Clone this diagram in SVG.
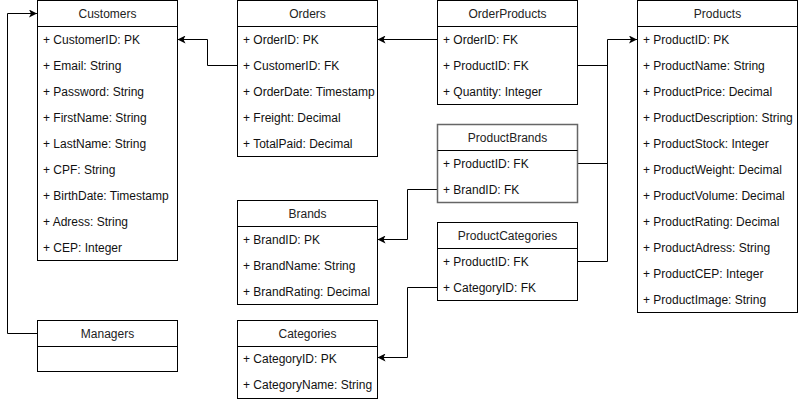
<svg xmlns="http://www.w3.org/2000/svg" width="798" height="401" viewBox="0 0 798 401">
<defs>
<style>
.box{fill:#fff;stroke:#000;stroke-width:1}
.pb{stroke:#666;stroke-width:1.5}
.hd{font-family:"Liberation Sans",Arial,sans-serif;font-size:12px;fill:#222;text-anchor:middle}
.at{font-family:"Liberation Sans",Arial,sans-serif;font-size:12px;fill:#111}
.ln{fill:none;stroke:#000;stroke-width:1}
.cn{fill:none;stroke:#000;stroke-width:1;marker-end:url(#arr)}
</style>
<marker id="arr" viewBox="0 0 8 8" refX="8" refY="4" markerWidth="8" markerHeight="8" markerUnits="userSpaceOnUse" orient="auto">
<path d="M0,0 L8,4 L0,8 L2,4 Z" fill="#000"/>
</marker>
</defs>
<rect width="798" height="401" fill="#fff"/>

<g id="connectors">
<path class="cn" d="M37.5,333.5 H7.5 V13.5 H37"/>
<path class="cn" d="M237.5,65.5 H207.5 V39.5 H177.5"/>
<path class="cn" d="M437.5,39.5 H377.5"/>
<path class="cn" d="M577.5,65.5 H607.5 V39.5 H637"/>
<path class="ln" d="M577.5,163.5 H607.5 V65"/>
<path class="ln" d="M577.5,261.5 H607.5 V163"/>
<path class="cn" d="M437.5,189.5 H407.5 V239.5 H377.5"/>
<path class="cn" d="M437.5,287.5 H407.5 V357.5 H377.5"/>
</g>

<g id="customers">
<rect class="box" x="37.5" y="0.5" width="140" height="260"/>
<path class="ln" d="M37.5,26.5 H177.5"/>
<text class="hd" x="107.5" y="18">Customers</text>
<text class="at" x="43" y="44">+ CustomerID: PK</text>
<text class="at" x="43" y="70">+ Email: String</text>
<text class="at" x="43" y="96">+ Password: String</text>
<text class="at" x="43" y="122">+ FirstName: String</text>
<text class="at" x="43" y="148">+ LastName: String</text>
<text class="at" x="43" y="174">+ CPF: String</text>
<text class="at" x="43" y="200">+ BirthDate: Timestamp</text>
<text class="at" x="43" y="226">+ Adress: String</text>
<text class="at" x="43" y="252">+ CEP: Integer</text>
</g>

<g id="orders">
<rect class="box" x="237.5" y="0.5" width="140" height="156"/>
<path class="ln" d="M237.5,26.5 H377.5"/>
<text class="hd" x="307.5" y="18">Orders</text>
<text class="at" x="243" y="44">+ OrderID: PK</text>
<text class="at" x="243" y="70">+ CustomerID: FK</text>
<text class="at" x="243" y="96">+ OrderDate: Timestamp</text>
<text class="at" x="243" y="122">+ Freight: Decimal</text>
<text class="at" x="243" y="148">+ TotalPaid: Decimal</text>
</g>

<g id="orderproducts">
<rect class="box" x="437.5" y="0.5" width="140" height="104"/>
<path class="ln" d="M437.5,26.5 H577.5"/>
<text class="hd" x="507.5" y="18">OrderProducts</text>
<text class="at" x="443" y="44">+ OrderID: FK</text>
<text class="at" x="443" y="70">+ ProductID: FK</text>
<text class="at" x="443" y="96">+ Quantity: Integer</text>
</g>

<g id="products">
<rect class="box" x="637.5" y="0.5" width="160" height="312"/>
<path class="ln" d="M637.5,26.5 H797.5"/>
<text class="hd" x="717.5" y="18">Products</text>
<text class="at" x="643" y="44">+ ProductID: PK</text>
<text class="at" x="643" y="70">+ ProductName: String</text>
<text class="at" x="643" y="96">+ ProductPrice: Decimal</text>
<text class="at" x="643" y="122">+ ProductDescription: String</text>
<text class="at" x="643" y="148">+ ProductStock: Integer</text>
<text class="at" x="643" y="174">+ ProductWeight: Decimal</text>
<text class="at" x="643" y="200">+ ProductVolume: Decimal</text>
<text class="at" x="643" y="226">+ ProductRating: Decimal</text>
<text class="at" x="643" y="252">+ ProductAdress: String</text>
<text class="at" x="643" y="278">+ ProductCEP: Integer</text>
<text class="at" x="643" y="304">+ ProductImage: String</text>
</g>

<g id="productbrands">
<rect class="box pb" x="437.5" y="124.5" width="140" height="78"/>
<path class="ln pb" d="M437.5,150.5 H577.5"/>
<text class="hd" x="507.5" y="142">ProductBrands</text>
<text class="at" x="443" y="168">+ ProductID: FK</text>
<text class="at" x="443" y="194">+ BrandID: FK</text>
</g>

<g id="productcategories">
<rect class="box" x="437.5" y="222.5" width="140" height="78"/>
<path class="ln" d="M437.5,248.5 H577.5"/>
<text class="hd" x="507.5" y="240">ProductCategories</text>
<text class="at" x="443" y="266">+ ProductID: FK</text>
<text class="at" x="443" y="292">+ CategoryID: FK</text>
</g>

<g id="brands">
<rect class="box" x="237.5" y="200.5" width="140" height="104"/>
<path class="ln" d="M237.5,226.5 H377.5"/>
<text class="hd" x="307.5" y="218">Brands</text>
<text class="at" x="243" y="244">+ BrandID: PK</text>
<text class="at" x="243" y="270">+ BrandName: String</text>
<text class="at" x="243" y="296">+ BrandRating: Decimal</text>
</g>

<g id="categories">
<rect class="box" x="237.5" y="320.5" width="140" height="78"/>
<path class="ln" d="M237.5,346.5 H377.5"/>
<text class="hd" x="307.5" y="338">Categories</text>
<text class="at" x="243" y="363">+ CategoryID: PK</text>
<text class="at" x="243" y="389">+ CategoryName: String</text>
</g>

<g id="managers">
<rect class="box" x="37.5" y="320.5" width="140" height="51"/>
<path class="ln" d="M37.5,346.5 H177.5"/>
<text class="hd" x="107.5" y="338">Managers</text>
</g>
</svg>
